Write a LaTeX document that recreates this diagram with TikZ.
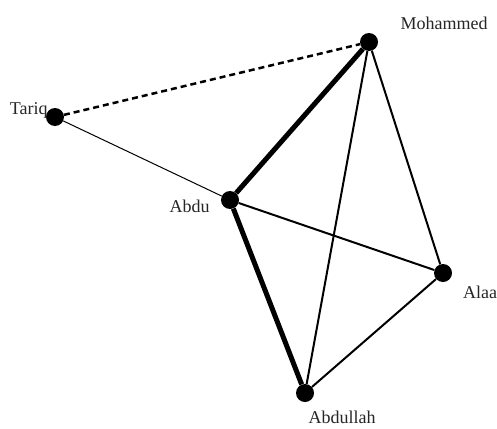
\documentclass[tikz,border=0pt]{standalone}
\usepackage{fontspec}
\setmainfont{Liberation Serif}
\usepackage{tikz}
\usetikzlibrary{positioning, backgrounds}

\begin{document}
\begin{tikzpicture}[
    x=1pt, y=-1pt,
    person/.style={circle, fill=black, minimum size=18pt, inner sep=0pt},
    who/.style={inner sep=0pt, font=\fontsize{18}{20}\selectfont, text=black!85},
    tie/.style={line width=2pt, black},
    weak/.style={line width=1pt, black},
    strong/.style={line width=5pt, black},
    doubt/.style={line width=2.5pt, black, dash pattern=on 6pt off 4pt}
]
    \useasboundingbox (0,0) rectangle (497,428);

    % People
    \node[person] (mohammed) at (369,42) {};
    \node[person] (tariq) at (55,117) {};
    \node[person] (abdu) at (230,200) {};
    \node[person] (alaa) at (443,273) {};
    \node[person] (abdullah) at (305,393) {};

    % Names
    \node[who, above right=6pt and 25pt of mohammed] {Mohammed};
    \node[who, left=-2pt of tariq, yshift=7pt] {Tariq};
    \node[who, left=11pt of abdu, yshift=-6pt] {Abdu};
    \node[who, below right=6.5pt and 13.5pt of alaa] {Alaa};
    \node[who, below=8.5pt of abdullah, xshift=37pt] {Abdullah};

    % Links
    \begin{scope}[on background layer]
        \draw[doubt] (tariq) -- (mohammed);
        \draw[weak] (tariq) -- (abdu);
        \draw[strong] (abdu) -- (mohammed);
        \draw[strong] (abdu) -- (abdullah);
        \draw[tie] (abdu) -- (alaa);
        \draw[tie] (mohammed) -- (alaa);
        \draw[tie] (mohammed) -- (abdullah);
        \draw[tie] (alaa) -- (abdullah);
    \end{scope}
\end{tikzpicture}
\end{document}
